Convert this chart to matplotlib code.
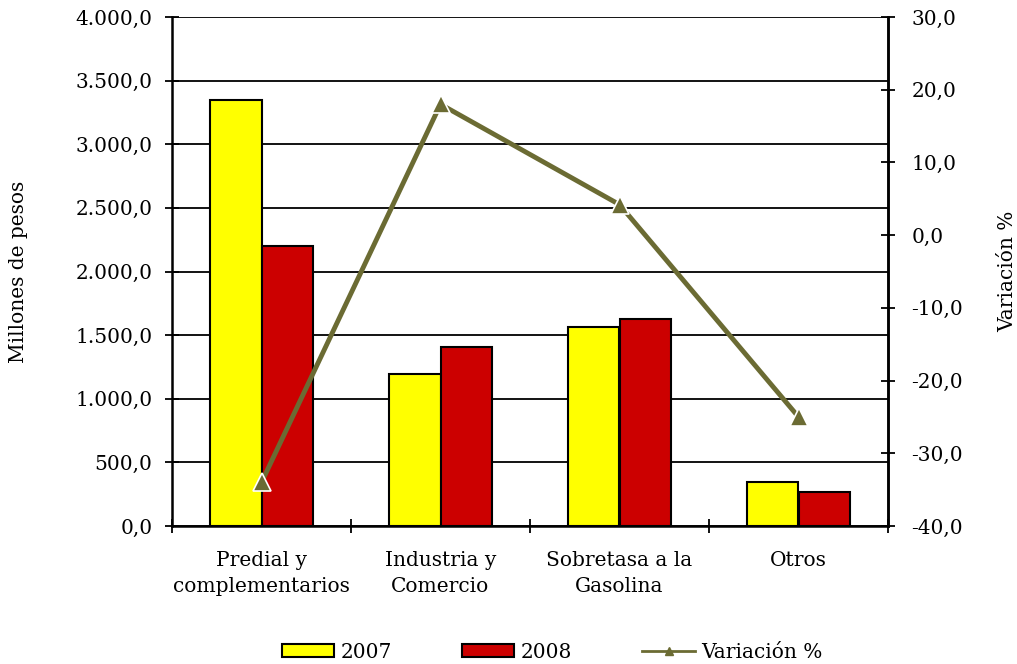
import matplotlib
matplotlib.use("Agg")
import matplotlib.pyplot as plt
from matplotlib.lines import Line2D
from matplotlib.patches import Patch
from matplotlib.ticker import FuncFormatter
import numpy as np

categories = ["Predial y\ncomplementarios", "Industria y\nComercio", "Sobretasa a la\nGasolina", "Otros"]
values_2007 = [3346, 1197, 1567, 346]
values_2008 = [2197, 1409, 1630, 266]
variacion = [-34.0, 18.0, 4.2, -25.0]
left_ticks = [0, 500, 1000, 1500, 2000, 2500, 3000, 3500, 4000]
right_ticks = [-40, -30, -20, -10, 0, 10, 20, 30]

plt.rcParams['font.family'] = ['DejaVu Serif']
FS = 14.5

def fmt_es(v, pos=None):
    s = f"{v:,.1f}"
    return s.replace(",", "X").replace(".", ",").replace("X", ".")

fig = plt.figure(figsize=(10.17, 6.64), dpi=100)
ax = fig.add_axes([172/1017, 138/664, 716/1017, 509/664])
x = np.arange(len(categories))
w = 0.29
ax.bar(x - w/2, values_2007, w, color="#FFFF00", edgecolor="black", linewidth=1.5, zorder=3)
ax.bar(x + w/2, values_2008, w, color="#CC0000", edgecolor="black", linewidth=1.5, zorder=3)
ax.set_ylim(0, 4000)
ax.set_xlim(-0.5, len(categories) - 0.5)
ax.set_yticks(left_ticks)
ax.yaxis.set_major_formatter(FuncFormatter(fmt_es))
ax.yaxis.grid(True, color="black", linewidth=1.3, zorder=0)
ax.set_axisbelow(True)
ax.set_xticks(x)
ax.set_xticklabels(categories, fontsize=FS, linespacing=1.5)
ax.set_xticks(np.arange(-0.5, len(categories), 1.0), minor=True)
ax.tick_params(axis="x", which="major", length=0, pad=18)
ax.tick_params(axis="x", which="minor", direction="inout", length=10, width=1.3)
ax.tick_params(axis="y", direction="inout", length=10, width=1.3, labelsize=FS, pad=9)
for s in ["left", "bottom", "right"]:
    ax.spines[s].set_linewidth(1.8)
ax.spines["top"].set_visible(False)
ax.set_ylabel("Millones de pesos", fontsize=FS, labelpad=34)

ax2 = ax.twinx()
ax2.plot(x, variacion, color="#6B6B33", linewidth=3.5, marker="^", markersize=13,
         markerfacecolor="#6B6B33", markeredgecolor="white", markeredgewidth=1.2, zorder=5)
ax2.set_ylim(-40, 30)
ax2.set_yticks(right_ticks)
ax2.yaxis.set_major_formatter(FuncFormatter(lambda v, p: f"{v:.1f}".replace(".", ",")))
ax2.tick_params(axis="y", direction="inout", length=10, width=1.3, labelsize=FS, pad=12)
for s in ["top", "left", "bottom"]:
    ax2.spines[s].set_visible(False)
ax2.spines["right"].set_linewidth(1.8)
ax2.set_ylabel("Variación %", fontsize=FS, labelpad=25)

handles = [Patch(facecolor="#FFFF00", edgecolor="black", linewidth=1.5),
           Patch(facecolor="#CC0000", edgecolor="black", linewidth=1.5),
           Line2D([0], [0], color="#6B6B33", linewidth=2, marker="^", markersize=6)]
fig.legend(handles, ["2007", "2008", "Variación %"], loc="center", bbox_to_anchor=(552/1017, 1 - 652/664),
           ncol=3, frameon=False, fontsize=FS, handlelength=2.6, handleheight=0.6,
           columnspacing=3.5, handletextpad=0.3)

fig.savefig("out.png", dpi=100)
